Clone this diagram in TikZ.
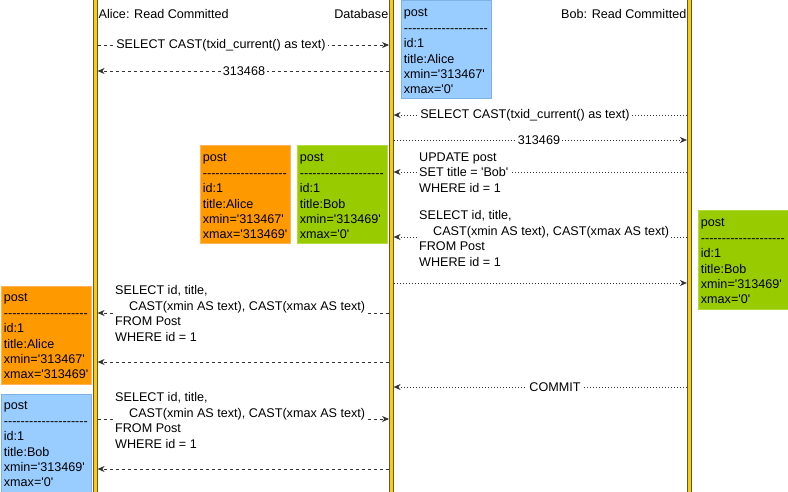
\documentclass[tikz,border=0pt]{standalone}
\usepackage{fontspec}
\setmainfont{Liberation Sans}[Ligatures=TeXOff]
\usetikzlibrary{arrows.meta}
\definecolor{lifey}{HTML}{FFCC00}
\definecolor{lifed}{HTML}{555555}
\definecolor{bluef}{HTML}{99CCFF}
\definecolor{blued}{HTML}{7FB2E5}
\definecolor{orangef}{HTML}{FF9900}
\definecolor{oranged}{HTML}{FFB257}
\definecolor{greenf}{HTML}{99CC00}
\definecolor{greend}{HTML}{B5DA3C}
\definecolor{linec}{HTML}{333333}
\newcommand{\hyl}{--------------------}
\begin{document}
\begin{tikzpicture}[x=1pt,y=-1pt,
  font=\fontsize{12.6}{15.4}\selectfont,
  life/.style={rectangle,fill=lifey,draw=lifed,line width=0.6pt,minimum width=4pt,minimum height=494pt,inner sep=0pt},
  rec/.style={rectangle,line width=0.8pt,minimum width=90pt,minimum height=98pt,anchor=north west,inner sep=0pt},
  rectext/.style={align=left,text width=84pt,inner sep=0pt},
  dsh/.style={draw=linec,line width=0.7pt,dash pattern=on 3pt off 3pt,-{Stealth[length=7pt,width=6pt]}},
  dtt/.style={draw=linec,line width=0.6pt,dash pattern=on 1pt off 2pt,-{Stealth[length=7pt,width=6pt]}},
  lbl/.style={fill=white,inner sep=2pt,text=black},
  mlbl/.style={fill=white,inner sep=2pt,align=left,anchor=west,text=black},
  hdr/.style={inner sep=0pt}]
\useasboundingbox (0,0) rectangle (788,492);

% lifelines
\node[life] (A) at (95.3,246) {};
\node[life] (D) at (391.3,246) {};
\node[life] (B) at (689.2,246) {};

% headers
\node[hdr,anchor=west] (hA) at (98.5,14) {Alice: Read Committed};
\node[hdr,anchor=east] (hD) at (388.5,14) {Database};
\node[hdr,anchor=east] (hB) at (686.5,14) {Bob: Read Committed};

% record boxes
\node[rec,fill=bluef,draw=blued] (r1) at (400.5,0.5) {};
\node[rectext] at ([yshift=-1.5pt]r1.center) {post\\\hyl\\id:1\\title:Alice\\xmin='313467'\\xmax='0'};
\node[rec,fill=orangef,draw=oranged] (r2) at (199.5,145.5) {};
\node[rectext] at ([yshift=-1.5pt]r2.center) {post\\\hyl\\id:1\\title:Alice\\xmin='313467'\\xmax='313469'};
\node[rec,fill=greenf,draw=greend] (r3) at (296.5,145.5) {};
\node[rectext] at ([yshift=-1.5pt]r3.center) {post\\\hyl\\id:1\\title:Bob\\xmin='313469'\\xmax='0'};
\node[rec,fill=greenf,draw=greend] (r4) at (697.5,210.5) {};
\node[rectext] at ([yshift=-1.5pt]r4.center) {post\\\hyl\\id:1\\title:Bob\\xmin='313469'\\xmax='0'};
\node[rec,fill=orangef,draw=oranged] (r5) at (0.5,285.5) {};
\node[rectext] at ([yshift=-1.5pt]r5.center) {post\\\hyl\\id:1\\title:Alice\\xmin='313467'\\xmax='313469'};
\node[rec,fill=bluef,draw=blued] (r6) at (0.5,393.5) {};
\node[rectext] at ([yshift=-1.5pt]r6.center) {post\\\hyl\\id:1\\title:Bob\\xmin='313469'\\xmax='0'};

% messages
\draw[dsh] (A.east |- 0,45) -- (D.west |- 0,45);
\node[lbl] (m1) at (221,45) {SELECT CAST(txid\_current() as text)};
\draw[dsh] (D.west |- 0,71) -- (A.east |- 0,71);
\node[lbl] (m2) at (244,71) {313468};
\draw[dtt] (B.west |- 0,115) -- (D.east |- 0,115);
\node[lbl] (m3) at (525,115) {SELECT CAST(txid\_current() as text)};
\draw[dtt] (D.east |- 0,140) -- (B.west |- 0,140);
\node[lbl] (m4) at (539,140) {313469};
\draw[dtt] (B.west |- 0,172) -- (D.east |- 0,172);
\node[mlbl] (m5) at (417,172.5) {UPDATE post\\SET title = 'Bob'\\WHERE id = 1};
\draw[dtt] (B.west |- 0,237) -- (D.east |- 0,237);
\node[mlbl] (m6) at (417,238.5) {SELECT id, title,\\\hspace*{14pt}CAST(xmin AS text), CAST(xmax AS text)\\FROM Post\\WHERE id = 1};
\draw[dtt] (D.east |- 0,283) -- (B.west |- 0,283);
\draw[dsh] (D.west |- 0,313) -- (A.east |- 0,313);
\node[mlbl] (m8) at (113,313.5) {SELECT id, title,\\\hspace*{14pt}CAST(xmin AS text), CAST(xmax AS text)\\FROM Post\\WHERE id = 1};
\draw[dsh] (D.west |- 0,362) -- (A.east |- 0,362);
\draw[dtt] (B.west |- 0,387) -- (D.east |- 0,387);
\node[lbl] (m10) at (555,387) {COMMIT};
\draw[dsh] (A.east |- 0,419) -- (D.west |- 0,419);
\node[mlbl] (m11) at (113,420.5) {SELECT id, title,\\\hspace*{14pt}CAST(xmin AS text), CAST(xmax AS text)\\FROM Post\\WHERE id = 1};
\draw[dsh] (D.west |- 0,469) -- (A.east |- 0,469);
\end{tikzpicture}
\end{document}
